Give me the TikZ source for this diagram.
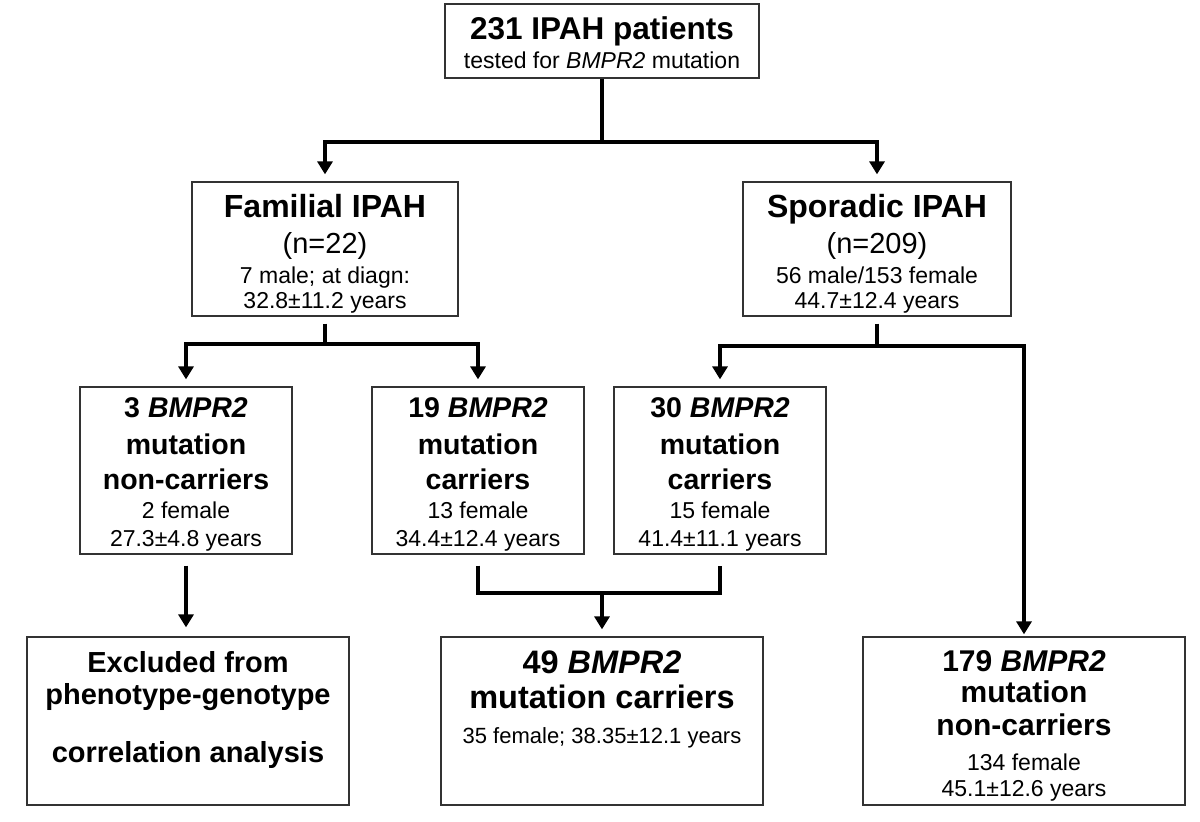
\documentclass[tikz,border=0pt]{standalone}
\usepackage{fontspec}
\setmainfont{Liberation Sans}
\usetikzlibrary{arrows.meta}
\begin{document}
\begin{tikzpicture}[x=1pt,y=1pt,
  bx/.style={draw=black!80, line width=1.3pt, fill=white, inner sep=0pt, rectangle},
  tb/.style={font=\fontsize{#1}{#1}\selectfont\bfseries, anchor=base, inner sep=0pt},
  tr/.style={font=\fontsize{#1}{#1}\selectfont, anchor=base, inner sep=0pt},
  conn/.style={line width=4pt, line join=miter},
  arr/.style={conn, -{Triangle[width=15pt,length=13pt]}}]
\fill[white] (0,0) rectangle (1200,-822);
\useasboundingbox (0,0) rectangle (1200,-822);

% boxes
\node[bx, minimum width=314pt, minimum height=74pt] (top) at (602,-41) {};
\node[bx, minimum width=266pt, minimum height=134pt] (fam) at (325,-249) {};
\node[bx, minimum width=268pt, minimum height=134pt] (spor) at (877,-249) {};
\node[bx, minimum width=212pt, minimum height=167pt] (nc3) at (186,-470.5) {};
\node[bx, minimum width=212pt, minimum height=167pt] (c19) at (478,-470.5) {};
\node[bx, minimum width=212pt, minimum height=167pt] (c30) at (720,-470.5) {};
\node[bx, minimum width=322pt, minimum height=168pt] (excl) at (188,-721) {};
\node[bx, minimum width=322pt, minimum height=168pt] (c49) at (602,-721) {};
\node[bx, minimum width=322pt, minimum height=168pt] (nc179) at (1024,-721) {};

% texts
\node[tb=31.5] (top1) at (602,-39) {231 IPAH patients};
\node[tr=23] (top2) at (602,-68) {tested for \textit{BMPR2} mutation};

\node[tb=32] (fam1) at (325,-217) {Familial IPAH};
\node[tr=29] (fam2) at (325,-253) {(n=22)};
\node[tr=23] (fam3) at (325,-283) {7 male; at diagn:};
\node[tr=23] (fam4) at (325,-308) {32.8±11.2 years};

\node[tb=32] (spor1) at (877,-217) {Sporadic IPAH};
\node[tr=29] (spor2) at (877,-253) {(n=209)};
\node[tr=23] (spor3) at (877,-283) {56 male/153 female};
\node[tr=23] (spor4) at (877,-308) {44.7±12.4 years};

\node[tb=28.5] (nc3a) at (186,-417) {3 \textit{BMPR2}};
\node[tb=28.5] (nc3b) at (186,-454) {mutation};
\node[tb=28.5] (nc3c) at (186,-489) {non-carriers};
\node[tr=23] (nc3d) at (186,-518) {2 female};
\node[tr=23] (nc3e) at (186,-546) {27.3±4.8 years};

\node[tb=28.5] (c19a) at (478,-417) {19 \textit{BMPR2}};
\node[tb=28.5] (c19b) at (478,-454) {mutation};
\node[tb=28.5] (c19c) at (478,-489) {carriers};
\node[tr=23] (c19d) at (478,-518) {13 female};
\node[tr=23] (c19e) at (478,-546) {34.4±12.4 years};

\node[tb=28.5] (c30a) at (720,-417) {30 \textit{BMPR2}};
\node[tb=28.5] (c30b) at (720,-454) {mutation};
\node[tb=28.5] (c30c) at (720,-489) {carriers};
\node[tr=23] (c30d) at (720,-518) {15 female};
\node[tr=23] (c30e) at (720,-546) {41.4±11.1 years};

\node[tb=29] (ex1) at (188,-672) {Excluded from};
\node[tb=29] (ex2) at (188,-704) {phenotype-genotype};
\node[tb=29] (ex3) at (188,-762) {correlation analysis};

\node[tb=32.5] (c49a) at (602,-673) {49 \textit{BMPR2}};
\node[tb=32.5] (c49b) at (602,-708) {mutation carriers};
\node[tr=22] (c49c) at (602,-743) {35 female; 38.35±12.1 years};

\node[tb=30] (nc179a) at (1024,-671) {179 \textit{BMPR2}};
\node[tb=30] (nc179b) at (1024,-702) {mutation};
\node[tb=30] (nc179c) at (1024,-735) {non-carriers};
\node[tr=23] (nc179d) at (1024,-770) {134 female};
\node[tr=23] (nc179e) at (1024,-796) {45.1±12.6 years};

% connectors
\coordinate (j1) at (602,-142);
\draw[conn] (top) -- (j1);
\draw[arr, shorten >=7pt] (j1) -| (fam);
\draw[arr, shorten >=7pt] (j1) -| (spor);

\coordinate (j2) at (325,-344);
\draw[conn] ([yshift=-7pt]fam.south) -- (j2);
\draw[arr, shorten >=7pt] (j2) -| (nc3);
\draw[arr, shorten >=7pt] (j2) -| (c19);

\coordinate (j3) at (877,-346);
\draw[conn] ([yshift=-7pt]spor.south) -- (j3);
\draw[arr, shorten >=7pt] (j3) -| (c30);
\draw[arr, shorten >=2pt] (j3) -| (nc179);

\coordinate (j4) at (602,-593);
\draw[conn] ([yshift=-11pt]c19.south) |- (j4) -| ([yshift=-11pt]c30.south);
\draw[arr, shorten >=7pt] (j4) -- (c49);

\draw[arr, shorten >=9pt] ([yshift=-11pt]nc3.south) -- (nc3.south |- excl.north);
\end{tikzpicture}
\end{document}
